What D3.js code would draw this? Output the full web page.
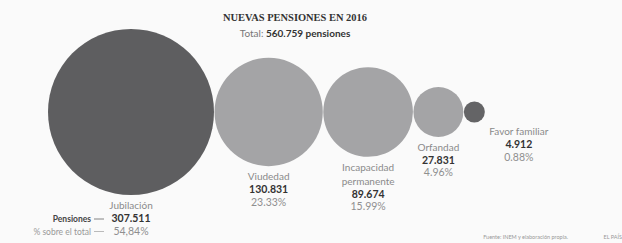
<!DOCTYPE html>
<html>
<head>
<meta charset="utf-8">
<script src="https://cdnjs.cloudflare.com/ajax/libs/d3/7.8.5/d3.min.js"></script>
<style>
  html, body { margin: 0; padding: 0; background: #fafafa; }
  svg { display: block; font-family: Lato, "Noto Sans", sans-serif; }
</style>
</head>
<body>
<svg id="chart" width="622" height="243"></svg>
<script>
// datos
var categories = ["Jubilación", "Viudedad", "Incapacidad permanente", "Orfandad", "Favor familiar"];
var pensiones = [307511, 130831, 89674, 27831, 4912];
var valueLabels = ["307.511", "130.831", "89.674", "27.831", "4.912"];
var pctLabels = ["54,84%", "23.33%", "15.99%", "4.96%", "0.88%"];
var totalLabel = "560.759 pensiones";

var svg = d3.select("#chart");
var cy = 112, x0 = 48;

var r = d3.scaleSqrt().domain([0, d3.max(pensiones)]).range([0, 83]);
var fill = d3.scaleOrdinal(categories, ["#5e5e60", "#a4a4a6", "#a4a4a6", "#a4a4a6", "#646466"]);

// circulos pegados uno al otro
var nodes = [], acc = x0;
categories.forEach(function (c, i) {
    var rr = r(pensiones[i]);
    nodes.push({ name: c, value: pensiones[i], r: rr, cx: acc + rr, vl: valueLabels[i], pl: pctLabels[i], i: i });
    acc += 2 * rr + 0.5;
});

svg.selectAll(".bubble").data(nodes).enter().append("circle")
    .attr("class", "bubble")
    .attr("cx", function (d) { return d.cx; })
    .attr("cy", cy)
    .attr("r", function (d) { return d.r; })
    .attr("fill", function (d) { return fill(d.name); });

// titulo
svg.append("text").attr("x", 295).attr("y", 21).attr("text-anchor", "middle")
    .attr("font-family", "'Liberation Serif', 'DejaVu Serif', serif")
    .attr("font-weight", "bold").attr("font-size", 11).attr("fill", "#333")
    .attr("textLength", 144).attr("lengthAdjust", "spacingAndGlyphs")
    .text("NUEVAS PENSIONES EN 2016");

var sub = svg.append("text").attr("x", 295).attr("y", 37).attr("text-anchor", "middle")
    .attr("font-size", 10).attr("fill", "#777");
sub.append("tspan").text("Total: ");
sub.append("tspan").attr("font-weight", "bold").attr("fill", "#333").text(totalLabel);

// etiquetas
var last = nodes.length - 1;
var labels = svg.selectAll(".lab").data(nodes).enter().append("g").attr("class", "lab")
    .attr("transform", function (d) {
        var lx = d.i === last ? d.cx + d.r + 34 : d.cx;
        var ly = d.i === last ? cy + d.r + 13 : cy + d.r + 14;
        return "translate(" + lx + "," + ly + ")";
    });

labels.each(function (d) {
    var g = d3.select(this);
    var words = d.name === "Incapacidad permanente" ? ["Incapacidad", "permanente"] : [d.name];
    var y = 0;
    words.forEach(function (w) {
        g.append("text").attr("y", y).attr("text-anchor", "middle")
            .attr("font-size", 10).attr("fill", "#8a8a8a").text(w);
        y += 14;
    });
    y -= 1;
    g.append("text").attr("y", y).attr("text-anchor", "middle")
        .attr("font-size", 10.5).attr("font-weight", "bold").attr("fill", "#333").text(d.vl);
    y += 12.5;
    g.append("text").attr("y", y).attr("text-anchor", "middle")
        .attr("font-size", 10.5).attr("fill", "#8f8f8f").text(d.pl);

    if (d.i === 0) {
        g.append("text").attr("x", -40).attr("y", y - 12.5).attr("text-anchor", "end")
            .attr("font-size", 8.5).attr("font-weight", "bold").attr("fill", "#444").text("Pensiones");
        g.append("text").attr("x", -40).attr("y", y).attr("text-anchor", "end")
            .attr("font-size", 8.5).attr("fill", "#999").text("% sobre el total");
        [y - 12.5, y].forEach(function (yy, k) {
            g.append("line").attr("x1", -37).attr("x2", -27)
                .attr("y1", yy - 3).attr("y2", yy - 3)
                .attr("stroke", k ? "#aaa" : "#666").attr("stroke-width", 0.8);
        });
    }
});

// fuente
svg.append("text").attr("x", 568).attr("y", 239).attr("text-anchor", "end")
    .attr("font-size", 5.5).attr("fill", "#999").text("Fuente: INEM y elaboración propia.");
svg.append("text").attr("x", 622).attr("y", 239).attr("text-anchor", "end")
    .attr("font-size", 5.5).attr("fill", "#999").text("EL PAÍS");
</script>
</body>
</html>
